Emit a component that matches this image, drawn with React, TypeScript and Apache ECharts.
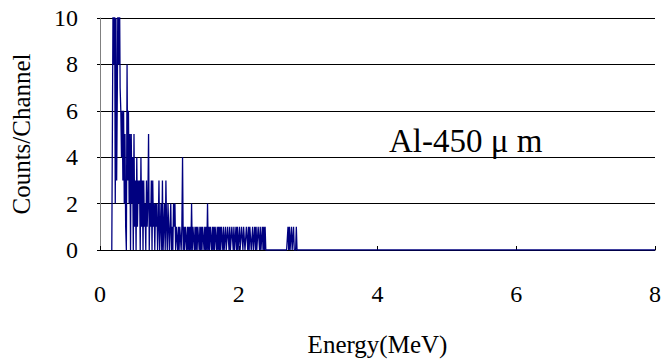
import React, { useEffect, useRef } from "react";
import * as echarts from "echarts";

// Channel calibration (MeV)
const startEnergy = 0.17;
const channelWidth = 0.01;
const endEnergy = 8.0;

// Counts per channel, starting at startEnergy (0.17 MeV)
const counts = [
  0, 6, 12, 8, 12, 2, 10, 3, 7, 12, 8, 12, 7, 6, 4, 6, 3, 6, 2, 5,
  1, 0, 8, 3, 6, 2, 5, 0, 5, 2, 4, 0, 5, 1, 3, 0, 4, 1, 3, 2,
  3, 0, 4, 1, 3, 0, 3, 1, 2, 0, 3, 1, 2, 5, 0, 2, 1, 3, 0, 3,
  1, 2, 0, 2, 1, 2, 0, 1, 3, 0, 1, 2, 0, 3, 0, 1, 2, 0, 3, 1,
  0, 2, 1, 0, 1, 2, 0, 1, 0, 2, 1, 2, 0, 1, 1, 0, 1, 0, 1, 1,
  0, 1, 4, 0, 1, 0, 1, 1, 0, 1, 0, 1, 0, 1, 0, 2, 0, 1, 1, 0,
  1, 0, 1, 0, 1, 1, 0, 1, 0, 1, 0, 1, 1, 0, 1, 0, 1, 0, 2, 0,
  1, 0, 1, 1, 0, 1, 0, 1, 0, 1, 1, 0, 1, 0, 1, 0, 1, 0, 1, 1,
  0, 1, 0, 0, 1, 0, 0, 1, 1, 0, 1, 0, 0, 1, 1, 0, 1, 0, 0, 1,
  0, 1, 0, 0, 1, 0, 0, 1, 1, 0, 1, 1, 0, 0, 1, 1, 0, 1, 0, 1,
  1, 0, 0, 1, 0, 0, 1, 0, 1, 0, 0, 1, 1, 0, 1, 0, 0, 1, 0, 1,
  0, 1, 0, 0, 0, 0, 0, 0, 0, 0, 0, 0, 0, 0, 0, 0, 0, 0, 0, 0,
  0, 0, 0, 0, 0, 0, 0, 0, 0, 0, 0, 0, 0, 0, 1, 0, 1, 0, 0, 1,
  0, 0, 1, 0, 0, 0, 1, 0, 0, 0, 0, 0, 0, 0,
];

const xTicks = [0, 2, 4, 6, 8];
const yTicks = [0, 2, 4, 6, 8, 10];
const sampleLabel = "Al-450 μ m";
const xName = "Energy(MeV)";
const yName = "Counts/Channel";

const FONT = '"Liberation Serif", "Times New Roman", serif';

export default function App() {
  const ref = useRef<HTMLDivElement>(null);
  useEffect(() => {
    document.body.style.margin = "0";
    if (!ref.current) return;
    const chart = echarts.init(ref.current, undefined, { renderer: "svg" });
    const data: [number, number][] = counts.map((c, i) => [
      +(startEnergy + i * channelWidth).toFixed(3),
      c,
    ]);
    data.push([endEnergy, 0]);
    chart.setOption({
      animation: false,
      backgroundColor: "#ffffff",
      grid: { left: 100, right: 15, top: 18, bottom: 104, containLabel: false },
      xAxis: {
        type: "value",
        min: xTicks[0],
        max: xTicks[xTicks.length - 1],
        interval: 2,
        name: xName,
        nameLocation: "middle",
        nameGap: 82,
        nameTextStyle: { fontFamily: FONT, fontSize: 25, color: "#000" },
        axisLine: { show: true, lineStyle: { color: "#000", width: 1 } },
        axisTick: { show: true, inside: true, length: 4, lineStyle: { color: "#000" } },
        axisLabel: { fontFamily: FONT, fontSize: 24, color: "#000", margin: 32 },
        splitLine: { show: false },
      },
      yAxis: {
        type: "value",
        min: yTicks[0],
        max: yTicks[yTicks.length - 1],
        interval: 2,
        name: yName,
        nameLocation: "middle",
        nameGap: 66,
        nameRotate: 90,
        nameTextStyle: { fontFamily: FONT, fontSize: 25, color: "#000" },
        axisLine: { show: true, lineStyle: { color: "#808080", width: 1 } },
        axisTick: { show: true, inside: false, length: 3, lineStyle: { color: "#000" } },
        axisLabel: { fontFamily: FONT, fontSize: 24, color: "#000", margin: 22 },
        splitLine: { show: true, lineStyle: { color: "#000", width: 1 } },
      },
      graphic: [
        {
          type: "text",
          left: 389,
          top: 124,
          style: {
            text: sampleLabel,
            fontFamily: FONT,
            fontSize: 33,
            fill: "#000",
          },
        },
      ],
      series: [
        {
          type: "line",
          data,
          showSymbol: false,
          symbol: "none",
          clip: true,
          lineStyle: { color: "#000080", width: 1.3 },
          itemStyle: { color: "#000080" },
        },
      ],
    });
    return () => chart.dispose();
  }, []);
  return <div ref={ref} style={{ width: 670, height: 362 }} />;
}
